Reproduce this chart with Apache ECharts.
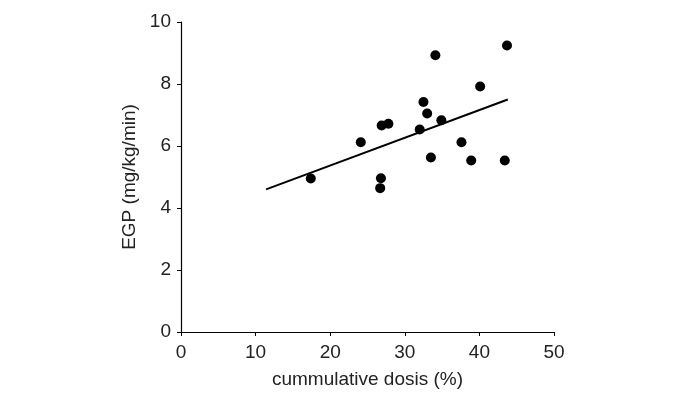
<!DOCTYPE html>
<html>
<head>
<meta charset="utf-8">
<script src="https://cdn.jsdelivr.net/npm/echarts@6/dist/echarts.min.js"></script>
<style>
  html, body { margin: 0; padding: 0; background: #fff; }
  #chart { width: 675px; height: 400px; }
</style>
</head>
<body>
<div id="chart"></div>
<script>
// measured points: cumulative dose (%) vs EGP (mg/kg/min)
const doseValues = [17.4, 24.1, 26.7, 26.8, 26.9, 27.8, 32.0, 32.5, 33.0, 33.5, 34.1, 34.9, 37.6, 38.9, 40.1, 43.4, 43.7]
const egpValues = [4.95, 6.12, 4.64, 4.96, 6.66, 6.72, 6.53, 7.42, 7.05, 5.63, 8.93, 6.83, 6.12, 5.53, 7.92, 5.53, 9.24]

// regression line end points
const fitX = [11.4, 43.8]
const fitY = [4.6, 7.5]

const xTicks = { min: 0, max: 50, interval: 10 }
const yTicks = { min: 0, max: 10, interval: 2 }

const chartInstance = echarts.init(document.getElementById('chart'))

const font = 'Liberation Sans, Arial, sans-serif'
const axisStyle = { lineStyle: { color: '#000', width: 1.2 } }

const option = {
  animation: false,
  grid: { left: 181, right: 121, top: 22, bottom: 68 },
  xAxis: {
    type: 'value',
    ...xTicks,
    name: 'cummulative dosis (%)',
    nameLocation: 'middle',
    nameGap: 38,
    nameTextStyle: { fontFamily: font, fontSize: 19, color: '#222' },
    axisLine: { show: true, ...axisStyle },
    axisTick: { show: true, length: 4, lineStyle: { color: '#000' } },
    axisLabel: { fontFamily: font, fontSize: 19, color: '#222', margin: 11 },
    splitLine: { show: false }
  },
  yAxis: {
    type: 'value',
    ...yTicks,
    name: 'EGP (mg/kg/min)',
    nameLocation: 'middle',
    nameGap: 41,
    nameTextStyle: { fontFamily: font, fontSize: 19, color: '#222' },
    axisLine: { show: true, ...axisStyle },
    axisTick: { show: true, length: 4, lineStyle: { color: '#000' } },
    axisLabel: { fontFamily: font, fontSize: 19, color: '#222', margin: 10 },
    splitLine: { show: false }
  },
  series: [
    {
      type: 'line',
      data: fitX.map((x, i) => [x, fitY[i]]),
      symbol: 'none',
      lineStyle: { color: '#000', width: 2 },
      z: 2
    },
    {
      type: 'scatter',
      data: doseValues.map((x, i) => [x, egpValues[i]]),
      symbolSize: 10,
      itemStyle: { color: '#000', opacity: 1 },
      z: 3
    }
  ]
}

chartInstance.setOption(option)
</script>
</body>
</html>
